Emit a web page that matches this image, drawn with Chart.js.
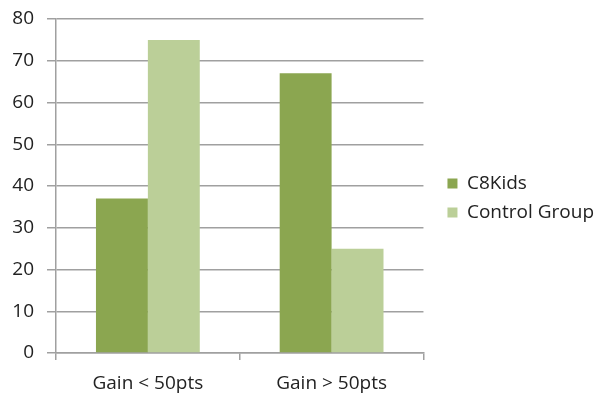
<!DOCTYPE html>
<html>
<head>
<meta charset="utf-8">
<script src="https://cdn.jsdelivr.net/npm/chart.js@4/dist/chart.umd.min.js"></script>
<style>
html,body{margin:0;padding:0;background:#fff;}
#wrap{width:604px;height:396px;}
</style>
</head>
<body>
<div id="wrap"><canvas id="c" width="604" height="396"></canvas></div>
<script>
const categories = ["Gain < 50pts", "Gain > 50pts"];
const c8Kids = [37, 67];
const controlGroup = [75, 25];
const seriesNames = ["C8Kids", "Control Group"];
const yTicks = [0, 10, 20, 30, 40, 50, 60, 70, 80];

const FONT = "'Open Sans', Lato, sans-serif";
const FS = 19;
const GRID = "#A0A0A0";
const TEXT = "#222222";

// legend layout: place legend items starting at x=448, plot right edge at 424
const cv = document.getElementById('c');
const mctx = cv.getContext('2d');
mctx.font = FS + "px " + FONT;
const textW = Math.max(...seriesNames.map(s => mctx.measureText(s).width));
const LP = 10, BOX = 10;
const legendW = BOX + FS / 2 + textW + LP + 10;
const padRight = Math.max(0, 604 - (448 - LP) - legendW);
const spacerW = (448 - LP) - 424;

new Chart(cv, {
  type: 'bar',
  data: {
    labels: categories,
    datasets: [
      { label: seriesNames[0], data: c8Kids, backgroundColor: '#8BA650', borderWidth: 0, yAxisID: 'y' },
      { label: seriesNames[1], data: controlGroup, backgroundColor: '#BBCF98', borderWidth: 0, yAxisID: 'y' }
    ]
  },
  options: {
    responsive: false,
    animation: false,
    devicePixelRatio: 1,
    layout: { padding: { top: 0, left: 0, right: padRight, bottom: 0 } },
    datasets: { bar: { categoryPercentage: 0.565, barPercentage: 1.0 } },
    plugins: {
      legend: {
        position: 'right',
        align: 'center',
        maxWidth: 300,
        labels: {
          font: { family: FONT, size: FS },
          color: TEXT,
          boxWidth: BOX,
          boxHeight: BOX,
          padding: LP
        }
      },
      tooltip: { enabled: false }
    },
    scales: {
      x: {
        grid: { display: true, drawOnChartArea: false, drawTicks: true, tickLength: 7, color: GRID, lineWidth: 1.5, offset: true },
        border: { display: true, color: GRID, width: 1.5 },
        ticks: { font: { family: FONT, size: FS }, color: TEXT, padding: 12 },
        afterFit: (axis) => { axis.height = 43; axis.paddingLeft = 0; axis.paddingRight = 0; }
      },
      y: {
        min: 0, max: 80,
        afterBuildTicks: (axis) => { axis.ticks = yTicks.map(v => ({ value: v })); },
        grid: { color: GRID, lineWidth: 1.5, tickLength: 9, drawTicks: true },
        border: { display: true, color: GRID, width: 1.5 },
        ticks: { font: { family: FONT, size: FS }, color: TEXT, padding: 13 },
        afterFit: (axis) => { axis.width = 56; axis.paddingTop = 19; axis.paddingBottom = 0; }
      },
      spacer: {
        type: 'linear',
        position: 'right',
        display: true,
        grid: { display: false, drawTicks: false },
        border: { display: false },
        ticks: { display: false },
        afterFit: (axis) => { axis.width = spacerW; axis.paddingTop = 0; axis.paddingBottom = 0; }
      }
    }
  }
});
</script>
</body>
</html>
